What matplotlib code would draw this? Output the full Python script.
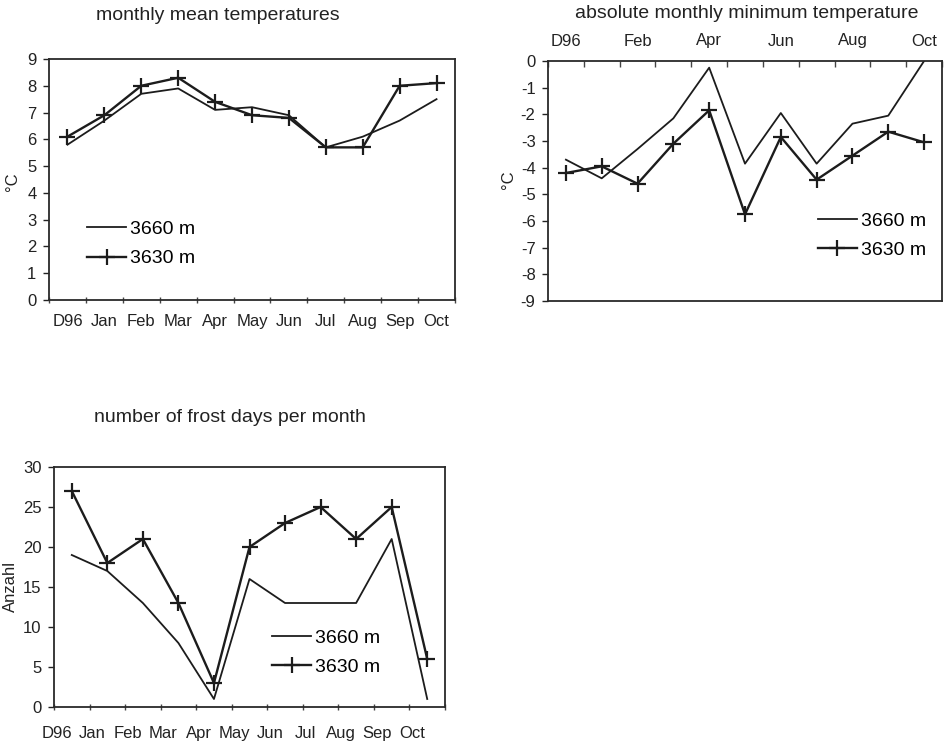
import numpy as np
import matplotlib
matplotlib.use('Agg')
import matplotlib.pyplot as plt

plt.rcParams['font.family'] = ['Liberation Sans', 'DejaVu Sans']
plt.rcParams['axes.unicode_minus'] = False

## data
months = ['D96', 'Jan', 'Feb', 'Mar', 'Apr', 'May', 'Jun', 'Jul', 'Aug', 'Sep', 'Oct']

# monthly mean temperatures (degC)
mean_3660 = [5.8, 6.7, 7.7, 7.9, 7.1, 7.2, 6.9, 5.7, 6.1, 6.7, 7.5]
mean_3630 = [6.1, 6.9, 8.0, 8.3, 7.4, 6.9, 6.8, 5.7, 5.7, 8.0, 8.1]

# absolute monthly minimum temperature (degC)
min_3660 = [-3.7, -4.4, -3.3, -2.15, -0.25, -3.85, -1.95, -3.85, -2.35, -2.05, 0.0]
min_3630 = [-4.2, -3.95, -4.6, -3.1, -1.85, -5.75, -2.85, -4.45, -3.55, -2.65, -3.05]

# number of frost days per month
frost_3660 = [19, 17, 13, 8, 1, 16, 13, 13, 13, 21, 1]
frost_3630 = [27, 18, 21, 13, 3, 20, 23, 25, 21, 25, 6]

labels = ['3660 m', '3630 m']

W, H = 948, 743
fig = plt.figure(figsize=(W / 100, H / 100), dpi=100)

def axes_px(l, r, t, b):
    return fig.add_axes([l / W, 1 - b / H, (r - l) / W, (b - t) / H])

LC = '#1c1c1c'
TC = '#222222'
x = np.arange(len(months))

def style(ax):
    for s in ax.spines.values():
        s.set_color('#2a2a2a')
        s.set_linewidth(1.3)
    ax.set_xlim(-0.5, len(months) - 0.5)
    ax.tick_params(axis='y', direction='out', length=4, width=1, pad=5, labelsize=12, colors=TC)
    ax.set_xticks(np.arange(len(months) + 1) - 0.5, minor=True)

def draw(ax, a, b):
    ax.plot(x, a, color=LC, lw=1.3, label=labels[0])
    ax.plot(x, b, color=LC, lw=1.7, marker='+', ms=11, mew=1.6, label=labels[1])

def leg(ax, bx, by):
    ax.legend(loc='upper left', bbox_to_anchor=(bx, by), frameon=False, fontsize=14,
              borderpad=0, borderaxespad=0, handlelength=2.0, handletextpad=0.2,
              labelspacing=0.6)

# panel 1
ax1 = axes_px(49, 455, 59, 300)
draw(ax1, mean_3660, mean_3630)
style(ax1)
ax1.set_ylim(0, 9)
ax1.set_yticks(range(0, 10))
ax1.set_xticks(x)
ax1.set_xticklabels(months)
ax1.tick_params(axis='x', which='major', length=0, pad=10, labelsize=12, colors=TC)
ax1.tick_params(axis='x', which='minor', direction='inout', length=5, width=1, color='#444')
leg(ax1, 0.094, 0.33)
fig.text(218 / W, 1 - 15 / H, 'monthly mean temperatures', ha='center', va='center', fontsize=14, color=TC)
fig.text(12 / W, 1 - 182 / H, '°C', rotation=90, ha='center', va='center', fontsize=12, color=TC)

# panel 2
ax2 = axes_px(548, 942, 61, 301)
draw(ax2, min_3660, min_3630)
style(ax2)
ax2.set_ylim(-9, 0)
ax2.set_yticks(range(-9, 1))
ax2.xaxis.tick_top()
ax2.set_xticks(x[::2])
ax2.set_xticklabels(months[::2])
ax2.tick_params(axis='x', which='major', length=0, pad=9, labelsize=12, colors=TC)
ax2.tick_params(axis='x', which='minor', top=True, bottom=False, direction='in', length=4, width=1, color='#444')
leg(ax2, 0.685, 0.37)
fig.text(747 / W, 1 - 14 / H, 'absolute monthly minimum temperature', ha='center', va='center', fontsize=14, color=TC)
fig.text(508 / W, 1 - 180 / H, '°C', rotation=90, ha='center', va='center', fontsize=12, color=TC)

# panel 3
ax3 = axes_px(54, 445, 467, 707)
draw(ax3, frost_3660, frost_3630)
style(ax3)
ax3.set_ylim(0, 30)
ax3.set_yticks(range(0, 31, 5))
ax3.set_xticks(x - 0.42)
ax3.set_xticklabels(months)
ax3.tick_params(axis='x', which='major', length=0, pad=14, labelsize=12, colors=TC)
ax3.tick_params(axis='x', which='minor', direction='inout', length=5, width=1, color='#444')
leg(ax3, 0.558, 0.325)
fig.text(230 / W, 1 - 417 / H, 'number of frost days per month', ha='center', va='center', fontsize=14, color=TC)
fig.text(10 / W, 1 - 587 / H, 'Anzahl', rotation=90, ha='center', va='center', fontsize=12, color=TC)

fig.savefig('out.png', dpi=100)
